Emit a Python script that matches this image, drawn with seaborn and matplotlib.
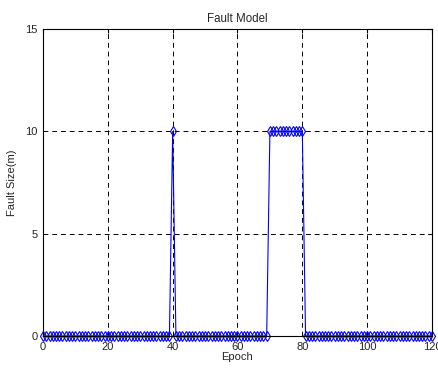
import numpy as np
import pandas as pd
import matplotlib
matplotlib.use("Agg")
import matplotlib.pyplot as plt
import seaborn as sns

# Data
epochs = list(range(0, 121))
spike_epochs = [40]
plateau_epochs = list(range(70, 81))
fault_level = 10
fault_size = [fault_level if (e in spike_epochs or e in plateau_epochs) else 0 for e in epochs]

df = pd.DataFrame({"Epoch": epochs, "Fault Size(m)": fault_size})

sns.set_style("white")
plt.rcParams['font.family'] = ['Liberation Sans', 'DejaVu Sans']

fig = plt.figure(figsize=(4.39, 3.69), dpi=100)
ax = fig.add_axes([0.098, 0.089, 0.886, 0.832])

sns.lineplot(data=df, x="Epoch", y="Fault Size(m)", ax=ax, color="blue",
             linewidth=0.8, marker="d", markersize=5.5, markerfacecolor="none",
             markeredgecolor="blue", markeredgewidth=0.8, clip_on=False)

ax.set_xlim(0, 120)
ax.set_ylim(0, 15)
ax.set_xticks([0, 20, 40, 60, 80, 100, 120])
ax.set_yticks([0, 5, 10, 15])
ax.grid(True, color="black", linestyle=(0, (5, 4)), linewidth=0.7)
ax.tick_params(direction="in", length=3, labelsize=8, top=True, right=True,
               color="black", pad=4)
for s in ax.spines.values():
    s.set_color("black")
    s.set_linewidth(0.8)
ax.set_title("Fault Model", fontsize=8.3, pad=5)
ax.set_xlabel("Epoch", fontsize=8, labelpad=0)
ax.set_ylabel("Fault Size(m)", fontsize=8, labelpad=6)

fig.savefig("out.png", dpi=100)
